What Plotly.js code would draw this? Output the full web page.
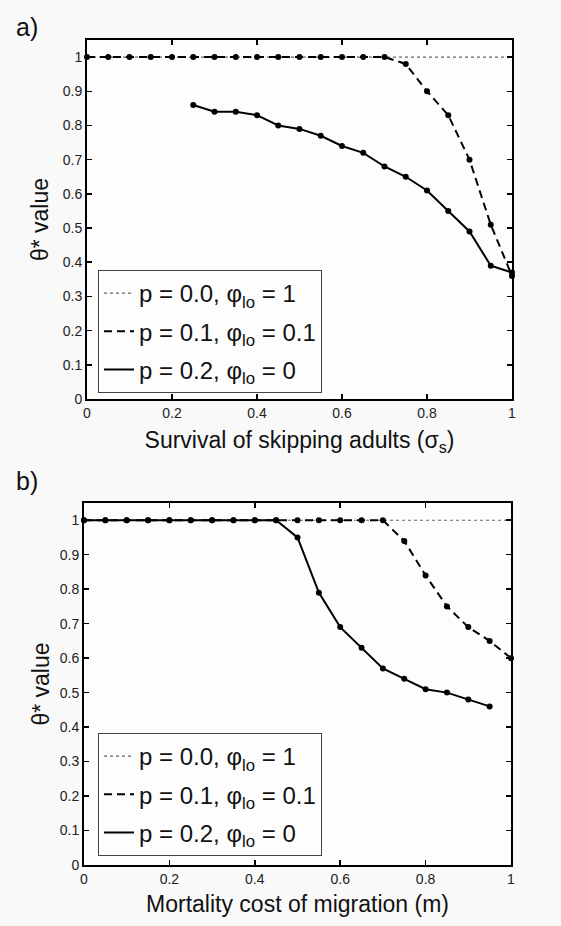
<!DOCTYPE html>
<html>
<head>
<meta charset="utf-8">
<script src="https://cdn.plot.ly/plotly-3.0.1.min.js"></script>
<style>html,body{margin:0;padding:0;background:#f9f9f9;}#chart{width:561px;height:926px;}</style>
</head>
<body>
<div id="chart"></div>
<script>
// ---- data ----
var xFull = [0,0.05,0.1,0.15,0.2,0.25,0.3,0.35,0.4,0.45,0.5,0.55,0.6,0.65,0.7,0.75,0.8,0.85,0.9,0.95,1.0];

// panel a) survival of skipping adults
var aP00 = [1,1,1,1,1,1,1,1,1,1,1,1,1,1,1,1,1,1,1,1,1];
var aP01 = [1,1,1,1,1,1,1,1,1,1,1,1,1,1,1,0.98,0.90,0.83,0.70,0.51,0.36];
var aP02x = [0.25,0.3,0.35,0.4,0.45,0.5,0.55,0.6,0.65,0.7,0.75,0.8,0.85,0.9,0.95,1.0];
var aP02 = [0.86,0.84,0.84,0.83,0.80,0.79,0.77,0.74,0.72,0.68,0.65,0.61,0.55,0.49,0.39,0.37];

// panel b) mortality cost of migration
var bP00 = [1,1,1,1,1,1,1,1,1,1,1,1,1,1,1,1,1,1,1,1,1];
var bP01 = [1,1,1,1,1,1,1,1,1,1,1,1,1,1,1,0.94,0.84,0.75,0.69,0.65,0.60];
var bP02x = [0,0.05,0.1,0.15,0.2,0.25,0.3,0.35,0.4,0.45,0.5,0.55,0.6,0.65,0.7,0.75,0.8,0.85,0.9,0.95];
var bP02 = [1,1,1,1,1,1,1,1,1,1,0.95,0.79,0.69,0.63,0.57,0.54,0.51,0.50,0.48,0.46];

var seriesNames = ["p = 0.0, φ<sub>lo</sub> = 1", "p = 0.1, φ<sub>lo</sub> = 0.1", "p = 0.2, φ<sub>lo</sub> = 0"];
var yTickVals = [0,0.1,0.2,0.3,0.4,0.5,0.6,0.7,0.8,0.9,1];
var xTickVals = [0,0.2,0.4,0.6,0.8,1];

// ---- traces ----
function lineTrace(x, y, name, dash, w, color, xa, ya, leg, grp) {
  return {x:x, y:y, name:name, mode:'lines', type:'scatter', xaxis:xa, yaxis:ya, legend:leg,
          legendgroup:grp, line:{dash:dash, width:w, color:color}, hoverinfo:'skip', cliponaxis:false};
}
function markTrace(x, y, xa, ya) {
  return {x:x, y:y, mode:'markers', type:'scatter', xaxis:xa, yaxis:ya, showlegend:false,
          marker:{size:6, color:'#000'}, hoverinfo:'skip', cliponaxis:false};
}
var data = [
  lineTrace(xFull, aP00, seriesNames[0], 'dot', 1.2, '#666', 'x', 'y', 'legend', 'a0'),
  lineTrace(xFull, aP01, seriesNames[1], '8px,5px', 2, '#000', 'x', 'y', 'legend', 'a1'),
  lineTrace(aP02x, aP02, seriesNames[2], 'solid', 2, '#000', 'x', 'y', 'legend', 'a2'),
  markTrace(xFull, aP01, 'x', 'y'),
  markTrace(aP02x, aP02, 'x', 'y'),
  lineTrace(xFull, bP00, seriesNames[0], 'dot', 1.2, '#666', 'x2', 'y2', 'legend2', 'b0'),
  lineTrace(xFull, bP01, seriesNames[1], '8px,5px', 2, '#000', 'x2', 'y2', 'legend2', 'b1'),
  lineTrace(bP02x, bP02, seriesNames[2], 'solid', 2, '#000', 'x2', 'y2', 'legend2', 'b2'),
  markTrace(xFull, bP01, 'x2', 'y2'),
  markTrace(bP02x, bP02, 'x2', 'y2')
];

var W = 561, H = 926;
function ax(extra) {
  var base = {range:[0,1], showgrid:false, zeroline:false, showline:true, linecolor:'#000', linewidth:2,
    mirror:'ticks', ticks:'inside', ticklen:5, tickwidth:1.5, tickcolor:'#000',
    tickfont:{family:'Liberation Sans, Arial, sans-serif', size:14, color:'#222'}};
  for (var k in extra) base[k] = extra[k];
  return base;
}
var titleFont = {family:'Liberation Sans, Arial, sans-serif', size:23, color:'#111'};
var legFont = {family:'Liberation Sans, Arial, sans-serif', size:24, color:'#111'};

var layout = {
  width:W, height:H, margin:{l:0,r:0,t:0,b:0},
  paper_bgcolor:'#f9f9f9', plot_bgcolor:'#fdfdfd',
  showlegend:true,
  xaxis: ax({domain:[87/W, 512/W], anchor:'y', tickvals:xTickVals,
    title:{text:'Survival of skipping adults (σ<sub>s</sub>)', font:titleFont, standoff:12}}),
  yaxis: ax({domain:[1-399/H, 1-40/H], anchor:'x', range:[0,1.05], tickvals:yTickVals,
    title:{text:'θ* value', font:titleFont, standoff:8}}),
  xaxis2: ax({domain:[84/W, 511/W], anchor:'y2', tickvals:xTickVals,
    title:{text:'Mortality cost of migration (m)', font:titleFont, standoff:10}}),
  yaxis2: ax({domain:[1-865/H, 1-503/H], anchor:'x2', range:[0,1.05], tickvals:yTickVals,
    title:{text:'θ* value', font:titleFont, standoff:4}}),
  legend: {x:98/W, y:1-270/H, xanchor:'left', yanchor:'top', bgcolor:'#fdfdfd',
    bordercolor:'#444', borderwidth:1, font:legFont, tracegroupgap:4},
  legend2: {x:98/W, y:1-733/H, xanchor:'left', yanchor:'top', bgcolor:'#fdfdfd',
    bordercolor:'#444', borderwidth:1, font:legFont, tracegroupgap:4},
  annotations: [
    {text:'a)', xref:'paper', yref:'paper', x:14/W, y:1-27/H, xanchor:'left', yanchor:'middle',
     showarrow:false, font:{family:'Liberation Sans, Arial, sans-serif', size:25, color:'#111'}},
    {text:'b)', xref:'paper', yref:'paper', x:14/W, y:1-481/H, xanchor:'left', yanchor:'middle',
     showarrow:false, font:{family:'Liberation Sans, Arial, sans-serif', size:25, color:'#111'}}
  ]
};

Plotly.newPlot('chart', data, layout, {displayModeBar:false, staticPlot:true});
</script>
</body>
</html>
